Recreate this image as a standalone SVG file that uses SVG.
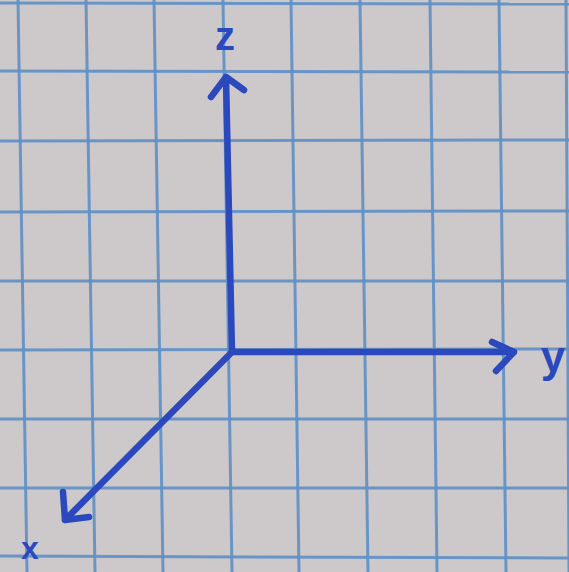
<svg xmlns="http://www.w3.org/2000/svg" width="569" height="572" viewBox="0 0 569 572">
<style>
.grid line{stroke:#5f90c6;stroke-width:3;opacity:.9}
.axis{stroke:#2b48bc;stroke-width:6.5;stroke-linecap:round;stroke-linejoin:round;fill:none}
.lbl{font-family:"Liberation Sans",Arial,sans-serif;font-weight:bold;fill:#2b48bc}
</style>
<rect x="0" y="0" width="569" height="572" fill="#cdc9cb"/>
<g class="grid" id="grid">
<line x1="18" y1="0" x2="27" y2="572"/>
<line x1="86" y1="0" x2="95" y2="572"/>
<line x1="154" y1="0" x2="163" y2="572"/>
<line x1="223" y1="0" x2="232" y2="572"/>
<line x1="291" y1="0" x2="299" y2="572"/>
<line x1="360" y1="0" x2="368" y2="572"/>
<line x1="430" y1="0" x2="437" y2="572"/>
<line x1="499" y1="0" x2="506" y2="572"/>
<line x1="566" y1="0" x2="569" y2="572"/>
<line x1="0" y1="3" x2="569" y2="4"/>
<line x1="0" y1="71" x2="569" y2="72"/>
<line x1="0" y1="141" x2="569" y2="140"/>
<line x1="0" y1="212" x2="569" y2="211"/>
<line x1="0" y1="281" x2="569" y2="281"/>
<line x1="0" y1="350" x2="569" y2="349"/>
<line x1="0" y1="419" x2="569" y2="419"/>
<line x1="0" y1="488" x2="569" y2="488"/>
<line x1="0" y1="556" x2="569" y2="558"/>
</g>
<g id="connectors">
<path id="axis-z" class="axis" d="M232,352 L226,77 M211,97 L226,77 L244,90"/>
<path id="axis-y" class="axis" d="M232,352 L514,352 M492,342 L514,352 L496,371"/>
<path id="axis-x" class="axis" d="M232,352 L65,520 M63,492 L65,520 L89,517"/>
</g>
<g id="node-z"><text class="lbl" x="225" y="50" font-size="40" text-anchor="middle">z</text></g>
<g id="node-y"><text class="lbl" x="553" y="372" font-size="44" text-anchor="middle">y</text></g>
<g id="node-x"><text class="lbl" x="30" y="559" font-size="32" text-anchor="middle">x</text></g>
</svg>
